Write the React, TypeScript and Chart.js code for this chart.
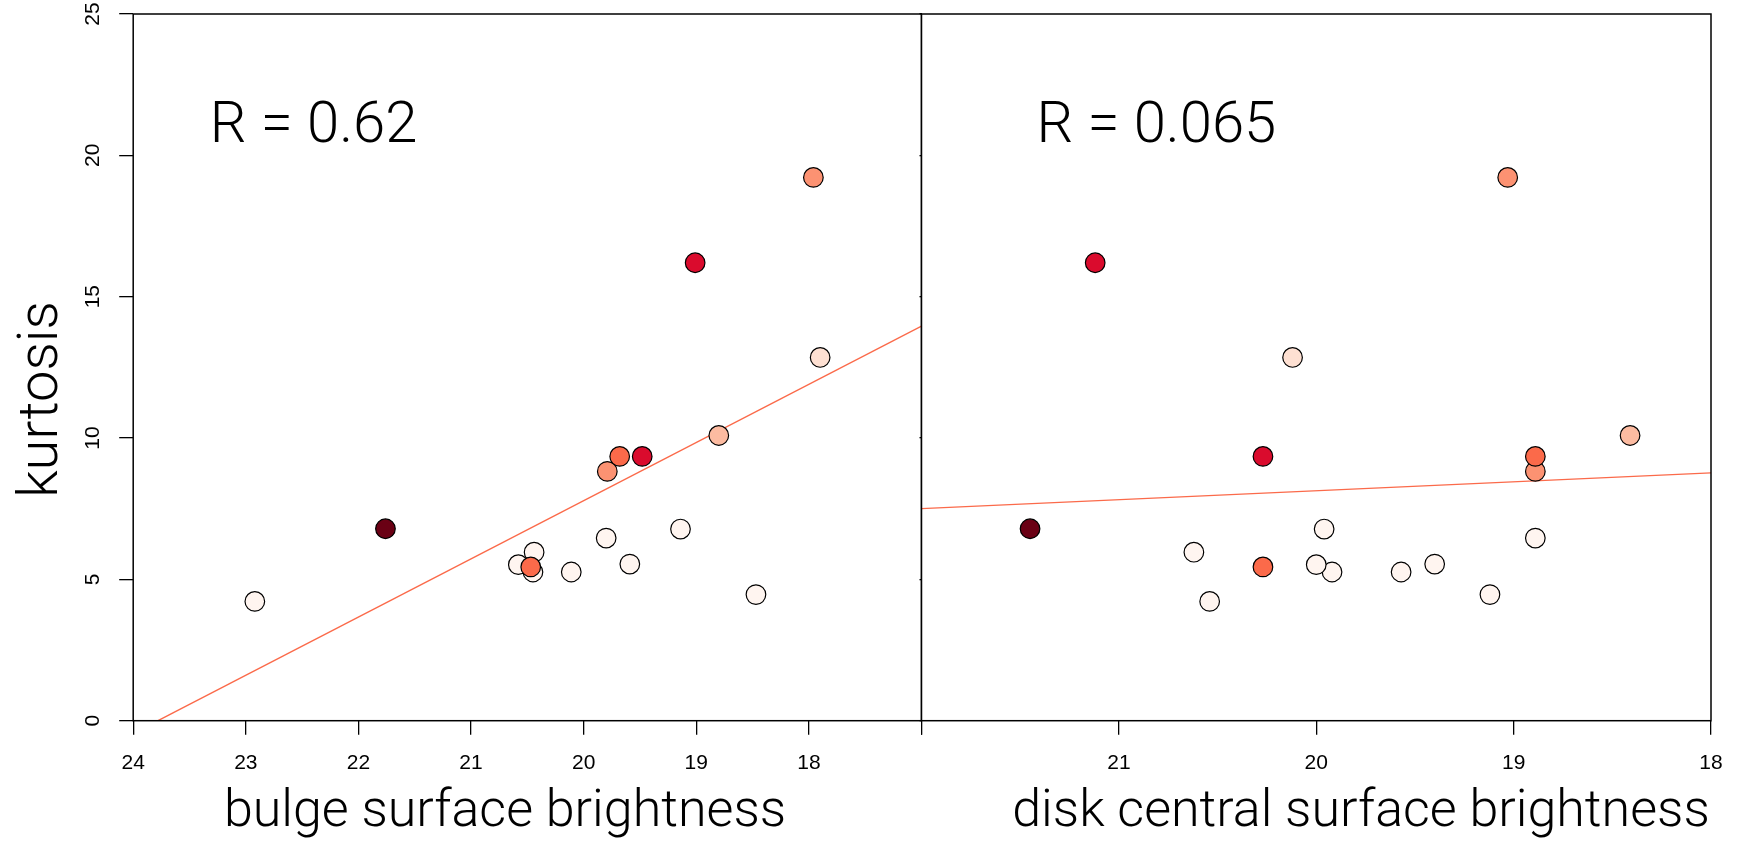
import React, { useEffect, useRef } from "react";
import { Chart, registerables } from "chart.js";

Chart.register(...registerables);

// ---------- data ----------
const kurtosis = [4.22, 4.46, 5.26, 5.26, 5.52, 5.54, 5.96, 6.46, 6.78, 5.44, 6.79, 8.82, 9.35, 9.35, 10.09, 12.85, 16.2, 19.22];
const bulgeSB = [22.92, 18.47, 20.45, 20.11, 20.58, 19.59, 20.44, 19.8, 19.14, 20.47, 21.76, 19.79, 19.68, 19.48, 18.8, 17.9, 19.01, 17.96];
const diskSB = [20.54, 19.12, 19.92, 19.57, 20.0, 19.4, 20.62, 18.89, 19.96, 20.27, 21.45, 18.89, 18.89, 20.27, 18.41, 20.12, 21.12, 19.03];
const pointColors = [
  "#FFF5F0", "#FFF5F0", "#FFF5F0", "#FFF5F0", "#FFF5F0", "#FFF5F0", "#FFF5F0", "#FFF5F0", "#FFF5F0",
  "#FB6A4A", "#6A0014", "#FC9272", "#FB6A4A", "#DA0B2D", "#FCBBA1", "#FEE0D2", "#DA0B2D", "#FC9272",
];
const yTickValues = [0, 5, 10, 15, 20, 25];
const bulgeTickValues = [24, 23, 22, 21, 20, 19, 18];
const diskTickValues = [21, 20, 19, 18];
const bulgeFitX = [23.78, 17];
const bulgeFitY = [0, 13.96];
const diskFitX = [22, 18];
const diskFitY = [7.5, 8.77];
const yTitle = "kurtosis";
const bulgeTitle = "bulge surface brightness";
const diskTitle = "disk central surface brightness";
const bulgeR = "R = 0.62";
const diskR = "R = 0.065";

// ---------- layout ----------
const W = 1739;
const H = 846;
const PLOT_TOP = 14;
const PLOT_BOTTOM = 720.7;
const TICK_FONT = '"Liberation Sans", Arial, Helvetica, sans-serif';
const LIGHT_FONT = 'Roboto, "Liberation Sans", Arial, sans-serif';

type PanelProps = {
  left: number;
  width: number;
  yAxisWidth: number;
  padRight: number;
  yTickLen: number;
  xMin: number;
  xMax: number;
  xs: number[];
  labelled: number[];
  fitX: number[];
  fitY: number[];
  rText: string;
  rX: number;
  xTitle: string;
  xTitleX: number;
  yLabels: boolean;
};

function Panel(p: PanelProps) {
  const ref = useRef<HTMLCanvasElement>(null);
  useEffect(() => {
    if (!ref.current) return;
    const off = p.left;
    const textPlugin = {
      id: "panelText",
      afterDraw(chart: any) {
        const ctx = chart.ctx as CanvasRenderingContext2D;
        const a = chart.chartArea;
        ctx.save();
        ctx.strokeStyle = "#000";
        ctx.lineWidth = 1.5;
        ctx.strokeRect(a.left, a.top, a.right - a.left, a.bottom - a.top);
        ctx.fillStyle = "#000";
        if (p.yLabels) {
          const ys = chart.scales.y;
          ctx.font = `21px ${TICK_FONT}`;
          ctx.textAlign = "center";
          ctx.textBaseline = "middle";
          for (const v of yTickValues) {
            const py = ys.getPixelForValue(v);
            ctx.save();
            ctx.translate(93.4 - off, py);
            ctx.rotate(-Math.PI / 2);
            ctx.fillText(String(v), 0, 0);
            ctx.restore();
          }
          ctx.font = `300 56px ${LIGHT_FONT}`;
          ctx.textBaseline = "alphabetic";
          ctx.save();
          ctx.translate(57 - off, 399.5);
          ctx.rotate(-Math.PI / 2);
          ctx.fillText(yTitle, 0, 0);
          ctx.restore();
        }
        ctx.font = `300 58px ${LIGHT_FONT}`;
        ctx.textAlign = "left";
        ctx.textBaseline = "alphabetic";
        ctx.fillText(p.rText, p.rX - off, 141.7);
        ctx.font = `300 52px ${LIGHT_FONT}`;
        ctx.textAlign = "center";
        ctx.fillText(p.xTitle, p.xTitleX - off, 826);
        ctx.restore();
      },
    };

    const chart = new Chart(ref.current, {
      type: "scatter",
      data: {
        datasets: [
          {
            type: "line",
            data: p.fitX.map((x, i) => ({ x, y: p.fitY[i] })),
            borderColor: "#FB6A4A",
            borderWidth: 1.3,
            pointRadius: 0,
            pointHoverRadius: 0,
            fill: false,
            order: 2,
          } as any,
          {
            type: "scatter",
            data: p.xs.map((x, i) => ({ x, y: kurtosis[i] })),
            pointRadius: 9.8,
            pointHoverRadius: 9.8,
            pointBorderWidth: 1.2,
            pointBackgroundColor: pointColors,
            pointBorderColor: "#000",
            order: 1,
          } as any,
        ],
      },
      options: {
        animation: false,
        responsive: true,
        maintainAspectRatio: false,
        events: [],
        layout: { autoPadding: false, padding: { top: PLOT_TOP, right: p.padRight, left: 0, bottom: 0 } },
        plugins: { legend: { display: false }, tooltip: { enabled: false } },
        scales: {
          x: {
            type: "linear",
            reverse: true,
            min: p.xMin,
            max: p.xMax,
            afterFit: (s: any) => {
              s.height = H - PLOT_BOTTOM;
              s.paddingLeft = 0;
              s.paddingRight = 0;
            },
            grid: { drawOnChartArea: false, color: "#000", lineWidth: 1.3, tickLength: 14 },
            border: { display: false },
            ticks: {
              stepSize: 1,
              autoSkip: false,
              maxRotation: 0,
              minRotation: 0,
              padding: 16,
              color: "#000",
              font: { size: 21, family: TICK_FONT },
              callback: (v: any) => (p.labelled.includes(Number(v)) ? String(v) : ""),
            },
          },
          y: {
            type: "linear",
            min: 0,
            max: 25,
            afterFit: (s: any) => {
              s.width = p.yAxisWidth;
              s.paddingTop = 0;
              s.paddingBottom = 0;
            },
            grid: { drawOnChartArea: false, color: "#000", lineWidth: 1.3, tickLength: p.yTickLen },
            border: { display: false },
            ticks: { display: false, stepSize: 5 },
          },
        },
      } as any,
      plugins: [textPlugin],
    });
    return () => chart.destroy();
  }, []);
  return (
    <div style={{ position: "absolute", left: p.left, top: 0, width: p.width, height: H }}>
      <canvas ref={ref} />
    </div>
  );
}

export default function App() {
  return (
    <div style={{ position: "fixed", left: 0, top: 0, width: W, height: H, background: "#fff" }}>
      <Panel
        left={0}
        width={922}
        yAxisWidth={133.2}
        padRight={0.5}
        yTickLen={14}
        xMin={17}
        xMax={24}
        xs={bulgeSB}
        labelled={bulgeTickValues}
        fitX={bulgeFitX}
        fitY={bulgeFitY}
        rText={bulgeR}
        rX={209.8}
        xTitle={bulgeTitle}
        xTitleX={505}
        yLabels={true}
      />
      <Panel
        left={900}
        width={839}
        yAxisWidth={21.5}
        padRight={28}
        yTickLen={2}
        xMin={18}
        xMax={22}
        xs={diskSB}
        labelled={diskTickValues}
        fitX={diskFitX}
        fitY={diskFitY}
        rText={diskR}
        rX={1036.5}
        xTitle={diskTitle}
        xTitleX={1361}
        yLabels={false}
      />
    </div>
  );
}
